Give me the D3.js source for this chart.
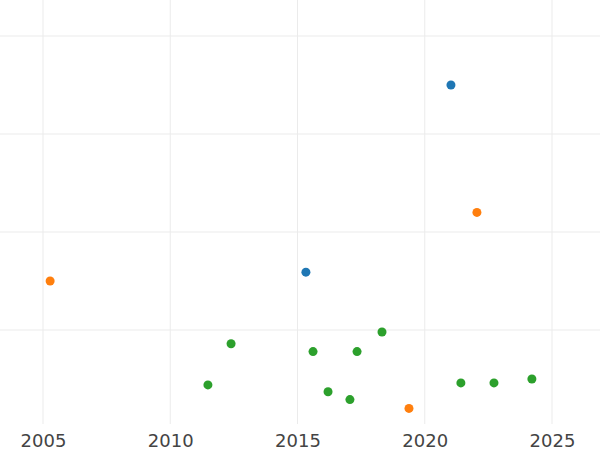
<!DOCTYPE html>
<html><head><meta charset="utf-8">
<script src="https://cdn.jsdelivr.net/npm/d3@7"></script>
<style>html,body{margin:0;padding:0;background:#fff;}</style>
</head><body>
<svg id="c" width="600" height="450"></svg>
<script>
const xTicks = [2005, 2010, 2015, 2020, 2025];
const yTicks = [1, 2, 3, 4];
const seriesBlueX = [2021.03, 2015.33];
const seriesBlueY = [3.50, 1.59];
const seriesOrangeX = [2005.28, 2022.05, 2019.38];
const seriesOrangeY = [1.50, 2.20, 0.20];
const seriesGreenX = [2012.39, 2011.48, 2015.61, 2017.34, 2018.32, 2016.20, 2017.06, 2021.42, 2022.72, 2024.21];
const seriesGreenY = [0.86, 0.44, 0.78, 0.78, 0.98, 0.37, 0.29, 0.46, 0.46, 0.50];
const colors = ["#1f77b4", "#ff7f0e", "#2ca02c"];

const svg = d3.select("#c");
const W = 600, plotBottom = 424;
const x = d3.scaleLinear().domain([2005, 2025]).range([43, 552]);
const y = d3.scaleLinear().domain([0, 1]).range([428, 330]);

const g = svg.append("g");
g.selectAll("line.v").data(xTicks).join("line")
  .attr("x1", d => x(d)).attr("x2", d => x(d))
  .attr("y1", 0).attr("y2", plotBottom)
  .attr("stroke", "#ebebeb").attr("stroke-width", 1);
g.selectAll("line.h").data(yTicks).join("line")
  .attr("x1", 0).attr("x2", W)
  .attr("y1", d => y(d)).attr("y2", d => y(d))
  .attr("stroke", "#ebebeb").attr("stroke-width", 1);

const axis = d3.axisBottom(x).tickValues(xTicks).tickFormat(d3.format("d")).tickSize(0).tickPadding(0);
const ax = svg.append("g").attr("transform", `translate(0,${plotBottom})`).call(axis);
ax.select(".domain").remove();
ax.selectAll("text").attr("font-family", "DejaVu Sans").attr("font-size", 18)
  .attr("fill", "#444").attr("dy", "0").attr("y", 23);

const series = [
  [seriesBlueX, seriesBlueY],
  [seriesOrangeX, seriesOrangeY],
  [seriesGreenX, seriesGreenY]
];
series.forEach(([xs, ys], i) => {
  svg.append("g").selectAll("circle").data(xs.map((v, k) => [v, ys[k]])).join("circle")
    .attr("cx", d => x(d[0])).attr("cy", d => y(d[1])).attr("r", 4.5)
    .attr("fill", colors[i]);
});
</script>
</body></html>
